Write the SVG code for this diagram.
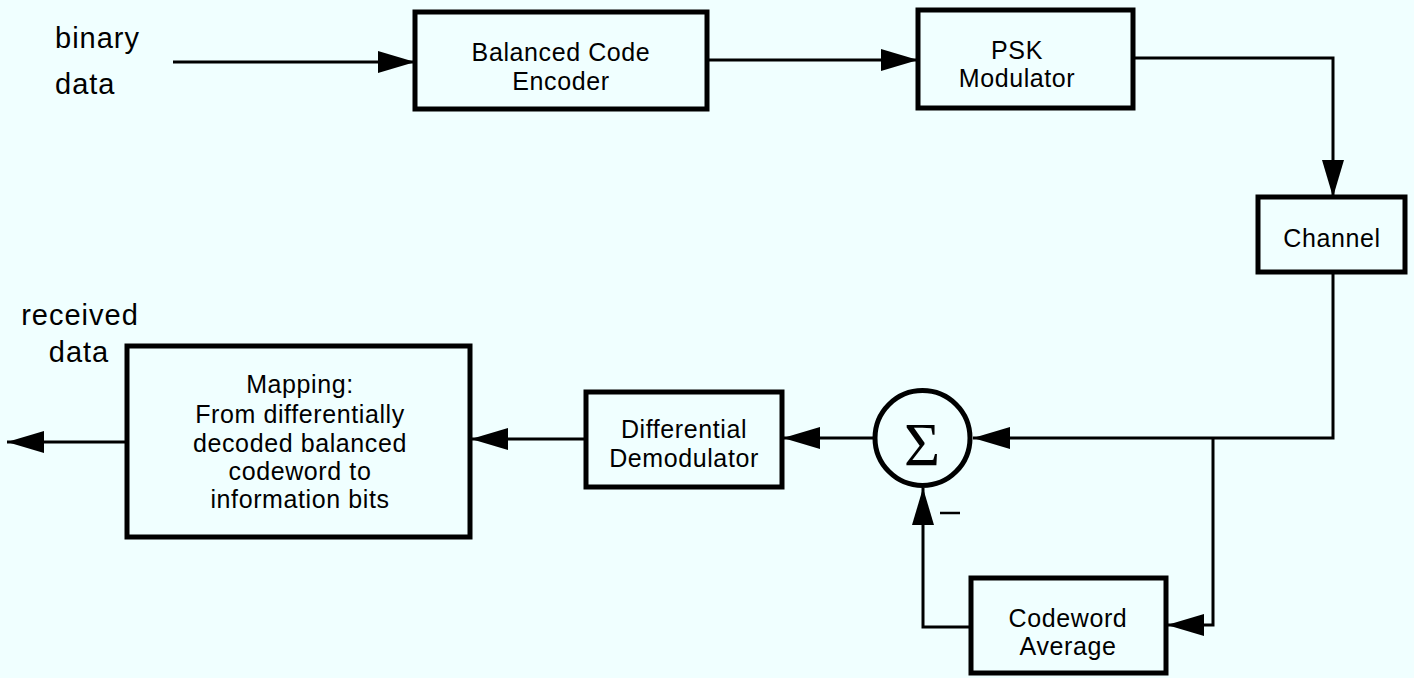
<svg xmlns="http://www.w3.org/2000/svg" width="1414" height="678" viewBox="0 0 1414 678">
  <style>
    .box { fill: none; stroke: #000; stroke-width: 5; }
    .wire { fill: none; stroke: #000; stroke-width: 3; }
    .lbl { font-family: "Liberation Sans", Arial, sans-serif; font-size: 25px; letter-spacing: 0.6px; fill: #000; text-anchor: middle; }
    .io { font-family: "Liberation Sans", Arial, sans-serif; font-size: 29px; letter-spacing: 1px; fill: #000; }
  </style>
  <defs>
    <marker id="arrow" markerUnits="userSpaceOnUse" markerWidth="37" markerHeight="22" viewBox="0 0 37 22" refX="37" refY="11" orient="auto">
      <path d="M0,0 L37,11 L0,22 z" fill="#000"/>
    </marker>
  </defs>

  <rect x="0" y="0" width="1414" height="678" fill="#f0ffff"/>

  <!-- input / output labels -->
  <g id="input-label">
    <text class="io" x="55" y="48">binary</text>
    <text class="io" x="55" y="94">data</text>
  </g>
  <g id="output-label">
    <text class="io" x="80" y="325" text-anchor="middle">received</text>
    <text class="io" x="79" y="362" text-anchor="middle">data</text>
  </g>

  <!-- processing blocks -->
  <g id="encoder">
    <rect class="box" x="415" y="12" width="292" height="97"/>
    <text class="lbl" x="561" y="61">Balanced Code</text>
    <text class="lbl" x="561" y="90">Encoder</text>
  </g>
  <g id="psk-modulator">
    <rect class="box" x="918" y="10" width="215" height="98"/>
    <text class="lbl" x="1017" y="59">PSK</text>
    <text class="lbl" x="1017" y="87">Modulator</text>
  </g>
  <g id="channel">
    <rect class="box" x="1258" y="197" width="147" height="75"/>
    <text class="lbl" x="1332" y="247">Channel</text>
  </g>
  <g id="summer">
    <circle cx="922.5" cy="438" r="47.5" fill="none" stroke="#000" stroke-width="5"/>
    <text x="922" y="465" font-family="'Liberation Serif', 'Times New Roman', serif" font-size="62" text-anchor="middle" fill="#000">Σ</text>
  </g>
  <g id="codeword-average">
    <rect class="box" x="971" y="578" width="195" height="95"/>
    <text class="lbl" x="1068" y="627">Codeword</text>
    <text class="lbl" x="1068" y="655">Average</text>
  </g>
  <g id="differential-demodulator">
    <rect class="box" x="586" y="392" width="196" height="95"/>
    <text class="lbl" x="684" y="438">Differential</text>
    <text class="lbl" x="684" y="467">Demodulator</text>
  </g>
  <g id="mapping">
    <rect class="box" x="127" y="346" width="343" height="191"/>
    <text class="lbl" x="300" y="393">Mapping:</text>
    <text class="lbl" x="300" y="423">From differentially</text>
    <text class="lbl" x="300" y="452">decoded balanced</text>
    <text class="lbl" x="300" y="480">codeword to</text>
    <text class="lbl" x="300" y="508">information bits</text>
  </g>

  <!-- connectors -->
  <g id="connectors">
    <path class="wire" d="M173,62 H415" marker-end="url(#arrow)"/>
    <path class="wire" d="M707,60 H918" marker-end="url(#arrow)"/>
    <path class="wire" d="M1133,58 H1333 V197" marker-end="url(#arrow)"/>
    <path class="wire" d="M1333,272 V438 H973" marker-end="url(#arrow)"/>
    <path class="wire" d="M1213,438 V625 H1167" marker-end="url(#arrow)"/>
    <path class="wire" d="M971,627 H923 V488" marker-end="url(#arrow)"/>
    <path class="wire" d="M873,438 H783" marker-end="url(#arrow)"/>
    <path class="wire" d="M586,439 H471" marker-end="url(#arrow)"/>
    <path class="wire" d="M127,442 H7" marker-end="url(#arrow)"/>
    <line x1="940" y1="513" x2="960" y2="513" stroke="#000" stroke-width="2.5"/>
  </g>
</svg>
